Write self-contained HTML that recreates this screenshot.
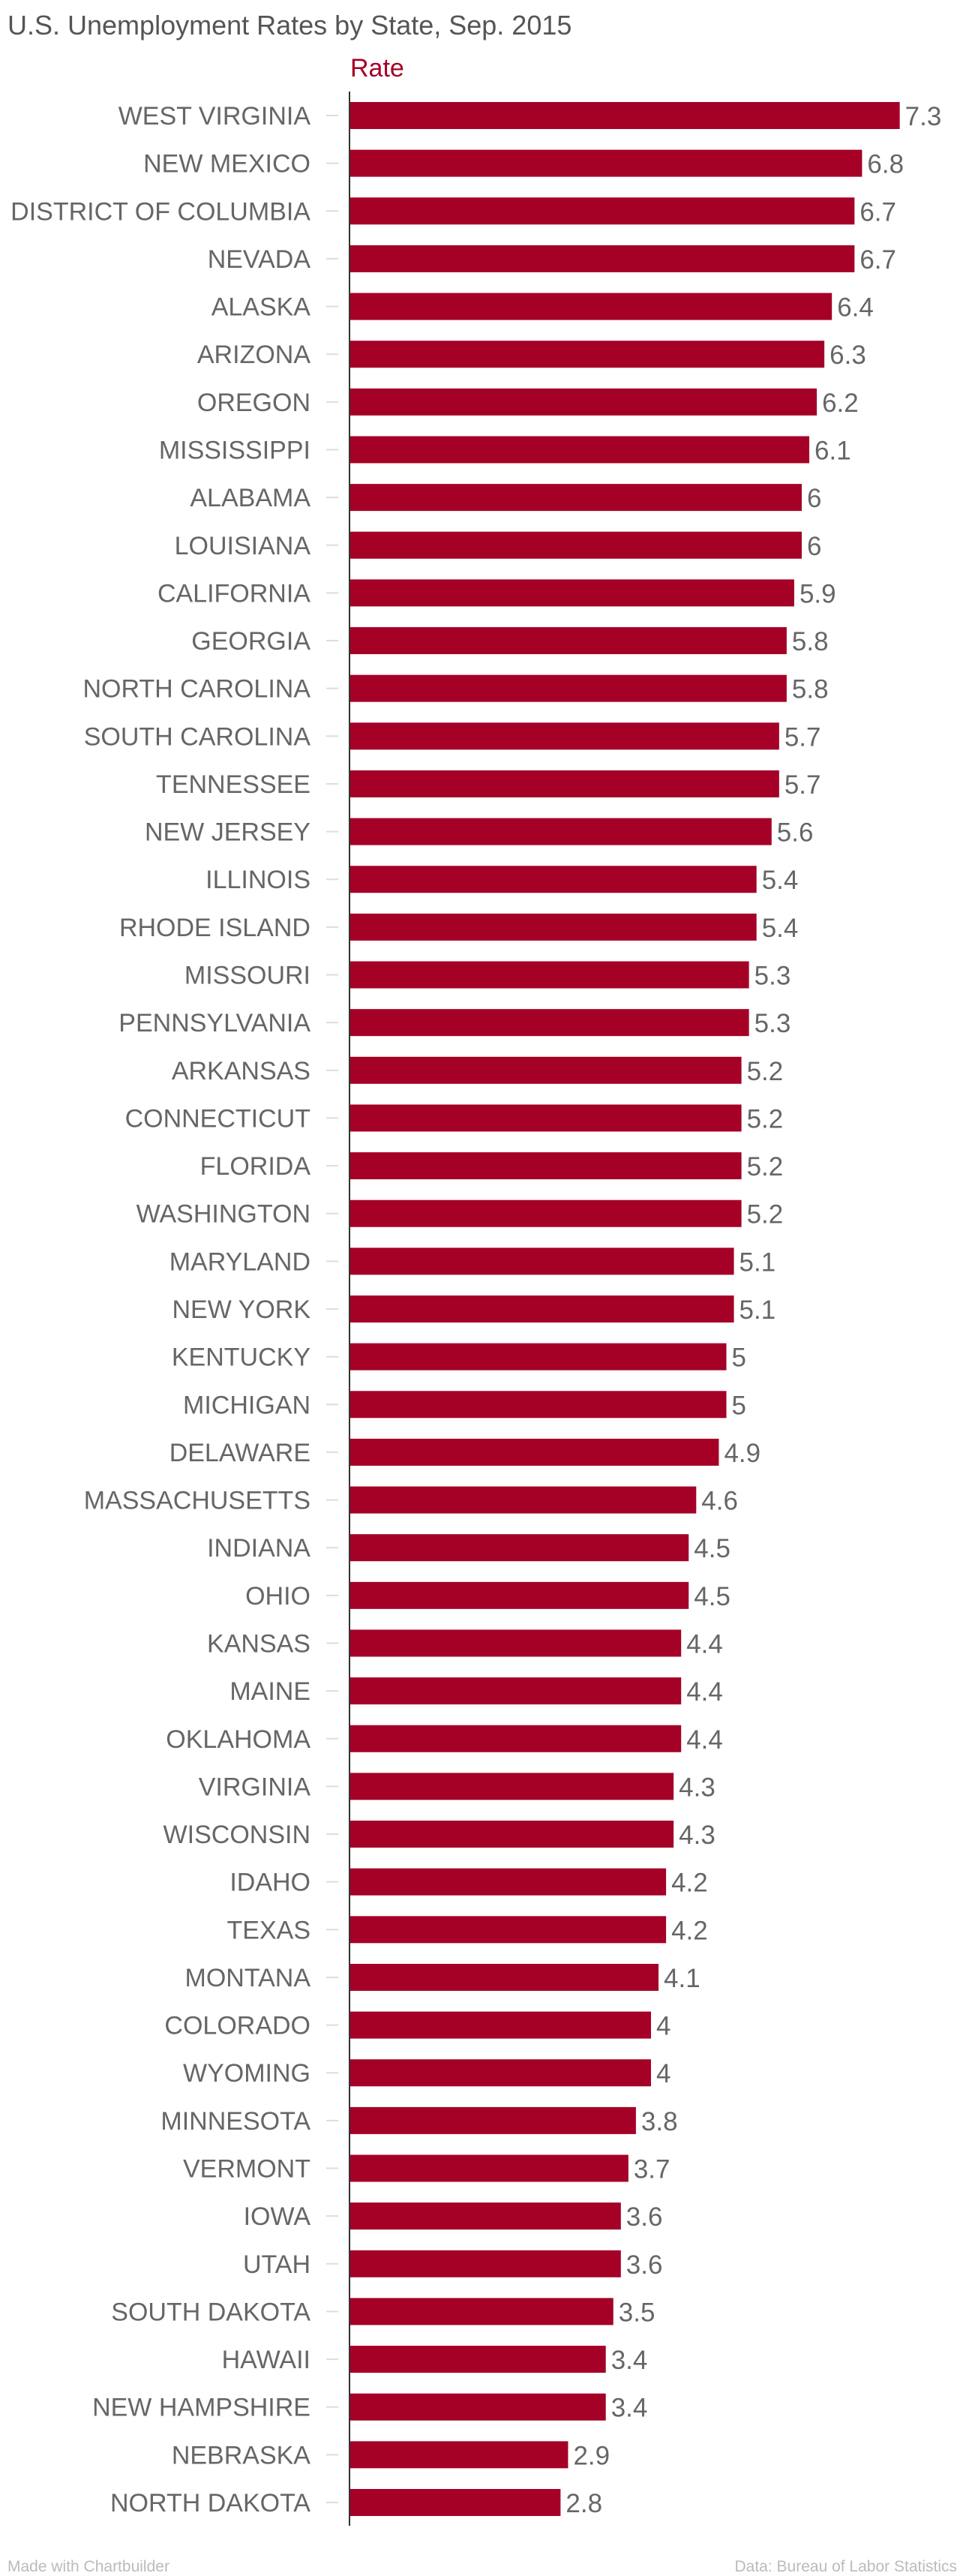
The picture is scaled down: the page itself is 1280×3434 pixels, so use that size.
<!DOCTYPE html>
<html><head><meta charset="utf-8"><style>
body{margin:0;background:#fff;width:1280px;height:3434px;overflow:hidden;font-family:"Liberation Sans",sans-serif}
svg{display:block}
</style></head><body>
<svg id="chart" width="1280" height="3434">
<text x="10" y="46" font-size="36" fill="#555">U.S. Unemployment Rates by State, Sep. 2015</text>
<text x="467" y="102" font-size="34" fill="#a50026">Rate</text>
<line x1="466" y1="122" x2="466" y2="3367" stroke="#333" stroke-width="2"/>
<g id="rows"></g>
<text x="10" y="3428" font-size="21" fill="#bbb">Made with Chartbuilder</text>
<text x="1276" y="3428" font-size="21" fill="#bbb" text-anchor="end">Data: Bureau of Labor Statistics</text>
</svg>
<script>
const states=["WEST VIRGINIA","NEW MEXICO","DISTRICT OF COLUMBIA","NEVADA","ALASKA","ARIZONA","OREGON","MISSISSIPPI","ALABAMA","LOUISIANA","CALIFORNIA","GEORGIA","NORTH CAROLINA","SOUTH CAROLINA","TENNESSEE","NEW JERSEY","ILLINOIS","RHODE ISLAND","MISSOURI","PENNSYLVANIA","ARKANSAS","CONNECTICUT","FLORIDA","WASHINGTON","MARYLAND","NEW YORK","KENTUCKY","MICHIGAN","DELAWARE","MASSACHUSETTS","INDIANA","OHIO","KANSAS","MAINE","OKLAHOMA","VIRGINIA","WISCONSIN","IDAHO","TEXAS","MONTANA","COLORADO","WYOMING","MINNESOTA","VERMONT","IOWA","UTAH","SOUTH DAKOTA","HAWAII","NEW HAMPSHIRE","NEBRASKA","NORTH DAKOTA"];
const rates=[7.3,6.8,6.7,6.7,6.4,6.3,6.2,6.1,6,6,5.9,5.8,5.8,5.7,5.7,5.6,5.4,5.4,5.3,5.3,5.2,5.2,5.2,5.2,5.1,5.1,5,5,4.9,4.6,4.5,4.5,4.4,4.4,4.4,4.3,4.3,4.2,4.2,4.1,4,4,3.8,3.7,3.6,3.6,3.5,3.4,3.4,2.9,2.8];
const NS="http://www.w3.org/2000/svg";
const x0=466,pxPerUnit=100.5,yTop=154,step=(3336-154)/50,barH=36;
const xScale=v=>x0+v*pxPerUnit;
const yScale=i=>yTop+i*step;
const g=document.getElementById('rows');
function mk(t,a){const e=document.createElementNS(NS,t);for(const k in a)e.setAttribute(k,a[k]);return e;}
states.forEach((s,i)=>{
  const cy=yScale(i);
  const lab=mk('text',{x:414,y:cy+12,'font-size':34,fill:'#666','text-anchor':'end'});
  
  
  lab.textContent=s;g.appendChild(lab);
  const tk=mk('line',{x1:435,x2:451,y1:cy,y2:cy,stroke:'#ddd','stroke-width':2});
  
  
  g.appendChild(tk);
  const b=mk('rect',{x:x0+1,y:cy-barH/2,width:xScale(rates[i])-x0-1,height:barH,fill:'#a50026'});
  
  
  g.appendChild(b);
  const v=mk('text',{x:xScale(rates[i])+7,y:cy+13,'font-size':35,fill:'#666'});
  
  
  v.textContent=String(rates[i]);g.appendChild(v);
});
</script>
</body></html>
